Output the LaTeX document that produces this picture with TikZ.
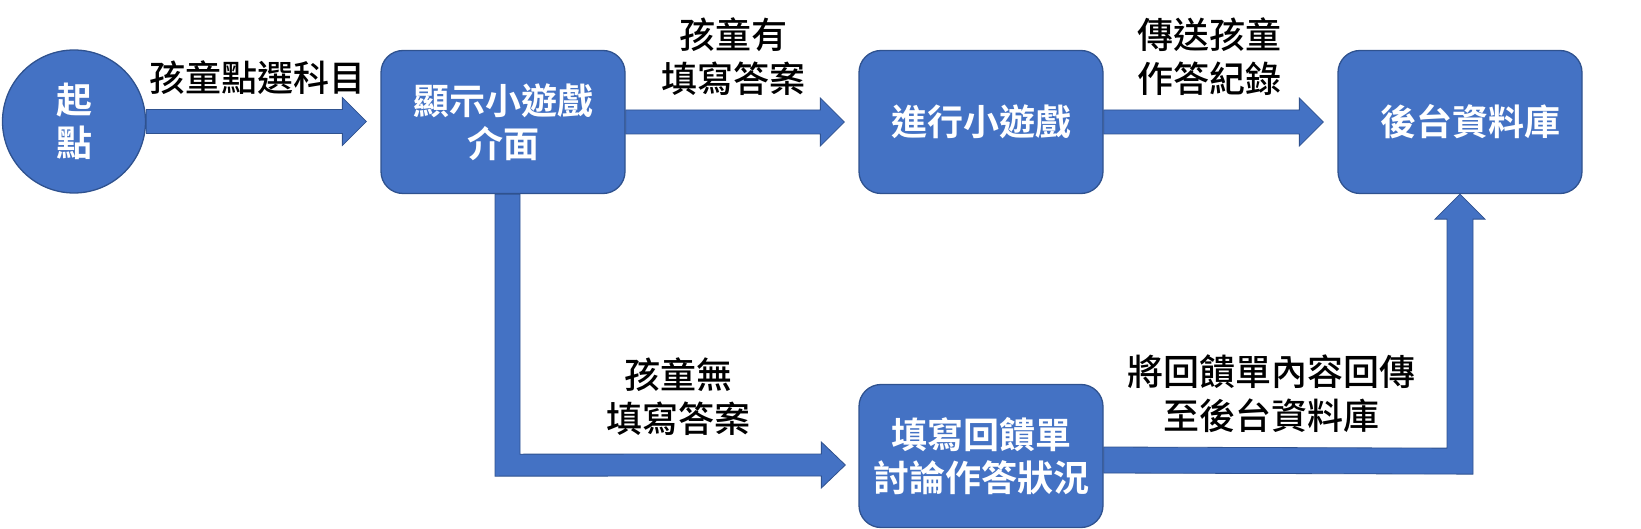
\documentclass[tikz,border=0pt]{standalone}
\usepackage{fontspec}
\newfontfamily\cjk{Noto Sans CJK TC}[UprightFont=* Medium, BoldFont=* Bold]
\usetikzlibrary{calc}
\definecolor{boxblue}{HTML}{4472C4}
\definecolor{edgeblue}{HTML}{2F528F}
\tikzset{
  box/.style={draw=edgeblue, line width=1.3pt, fill=boxblue, rounded corners=22pt,
    minimum width=244pt, minimum height=143pt, text=white,
    font=\cjk\bfseries\fontsize{36}{43}\selectfont, align=center, inner sep=0pt},
  startcirc/.style={circle, draw=edgeblue, line width=1.3pt, fill=boxblue,
    minimum size=143pt, text=white, font=\cjk\bfseries\fontsize{36}{43}\selectfont,
    align=center, inner sep=0pt},
  lbl/.style={font=\cjk\fontsize{36}{44}\selectfont, align=center, text=black, inner sep=0pt},
  barrow/.style={fill=boxblue, draw=edgeblue, line width=0.8pt, line join=miter},
}
\newcommand\blkright[2]{\draw[barrow] let \p1=(#1), \p2=(#2) in
  (\x1,\y1+12pt) -- (\x2-24pt,\y1+12pt) -- (\x2-24pt,\y1+24pt) -- (\x2,\y1)
  -- (\x2-24pt,\y1-24pt) -- (\x2-24pt,\y1-12pt) -- (\x1,\y1-12pt) -- cycle;}
\begin{document}
\begin{tikzpicture}[x=1pt, y=-1pt]
\useasboundingbox (0,0) rectangle (1641,529);
% nodes
\node[startcirc] (s) at (74,121.5) {起\\點};
\node[box] (b2) at (503,122) {\rule{0pt}{30pt}顯示小遊戲\\介面};
\node[box] (b3) at (981,122) {進行小遊戲};
\node[box] (b4) at (1460,122) {\hspace*{20pt}後台資料庫};
\node[box] (b5) at (981,456) {填寫回饋單\\討論作答狀況};
% straight arrows
\coordinate (t1) at ($(b2.west)+(-14,0)$);
\coordinate (t2) at ($(b3.west)+(-14,0)$);
\coordinate (t3) at ($(b4.west)+(-14,0)$);
\blkright{s.east}{t1}
\blkright{b2.east}{t2}
\blkright{b3.east}{t3}
% elbow arrow: b2 -> b5
\coordinate (t4) at ($(b5.west)+(-13,9)$);
\draw[barrow] ($(b2.south)+(-8,0)$) -- ($(b2.south)+(-8,282)$) -- ($(t4)+(-24,11)$)
  -- ($(t4)+(-24,23)$) -- (t4) -- ($(t4)+(-24,-23)$) -- ($(t4)+(-24,-11)$)
  -- ($(b2.south)+(17,260)$) -- ($(b2.south)+(17,0)$) -- cycle;
% elbow arrow: b5 -> b4
\draw[barrow] ($(b5.east)+(0,-9)$) -- ($(b4.south)+(-13,254)$) -- ($(b4.south)+(-13,25)$)
  -- ($(b4.south)+(-25,25)$) -- (b4.south) -- ($(b4.south)+(25,25)$)
  -- ($(b4.south)+(13,25)$) -- ($(b4.south)+(13,280)$) -- ($(b5.east)+(0,17)$) -- cycle;
% labels
\node[lbl] (l1) at (257,78) {孩童點選科目};
\node[lbl] (l2) at (733,57) {孩童有\\填寫答案};
\node[lbl] (l3) at (1209,57) {傳送孩童\\作答紀錄};
\node[lbl] (l4) at (678,397) {孩童無\\填寫答案};
\node[lbl] (l5) at (1271,394) {將回饋單內容回傳\\至後台資料庫};
\end{tikzpicture}
\end{document}
